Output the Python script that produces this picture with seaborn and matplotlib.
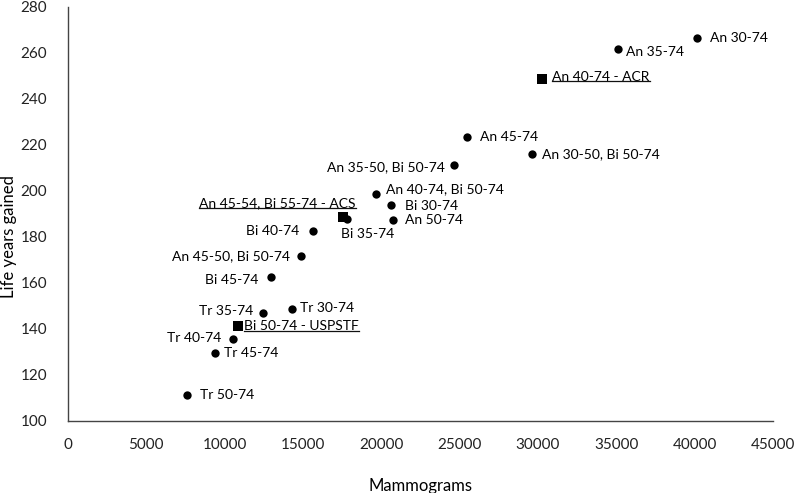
import matplotlib
matplotlib.use("Agg")
import matplotlib.pyplot as plt
import seaborn as sns
import pandas as pd

# screening strategies (An = annual, Bi = biennial, Tr = triennial)
strategies = [
    "An 30-74", "An 35-74", "An 40-74 - ACR", "An 45-74", "An 30-50, Bi 50-74",
    "An 35-50, Bi 50-74", "An 40-74, Bi 50-74", "Bi 30-74", "An 50-74",
    "An 45-54, Bi 55-74 - ACS", "Bi 35-74", "Bi 40-74", "An 45-50, Bi 50-74",
    "Bi 45-74", "Tr 35-74", "Tr 30-74", "Bi 50-74 - USPSTF", "Tr 40-74",
    "Tr 45-74", "Tr 50-74",
]
mammograms = [
    40130, 35130, 30280, 25450, 29600,
    24620, 19660, 20620, 20730,
    17530, 17830, 15660, 14870,
    12940, 12430, 14280, 10870, 10550,
    9380, 7580,
]
life_years = [
    266.4, 261.7, 248.7, 223.3, 216.1,
    211.4, 198.7, 193.9, 187.2,
    188.6, 188.0, 182.7, 171.7,
    162.7, 146.8, 148.7, 141.3, 135.8,
    129.4, 111.3,
]
guideline = [
    False, False, True, False, False,
    False, False, False, False,
    True, False, False, False,
    False, False, False, True, False,
    False, False,
]

df = pd.DataFrame({"strategy": strategies, "mammograms": mammograms,
                   "lyg": life_years, "guideline": guideline})

# label placement: (dx, dy) in pixels, horizontal alignment
label_pos = {
    "An 30-74": (13, 0, "left"),
    "An 35-74": (8, -3, "left"),
    "An 40-74 - ACR": (10, 2, "left"),
    "An 45-74": (13, 0, "left"),
    "An 30-50, Bi 50-74": (10, 0, "left"),
    "An 35-50, Bi 50-74": (-9, -2, "right"),
    "An 40-74, Bi 50-74": (10, 5, "left"),
    "Bi 30-74": (14, -1, "left"),
    "An 50-74": (12, 0, "left"),
    "An 45-54, Bi 55-74 - ACS": (13, 14, "right"),
    "Bi 35-74": (-6, -15, "left"),
    "Bi 40-74": (-14, 0, "right"),
    "An 45-50, Bi 50-74": (-11, 0, "right"),
    "Bi 45-74": (-12, -3, "right"),
    "Tr 35-74": (-9, 2, "right"),
    "Tr 30-74": (8, 1, "left"),
    "Bi 50-74 - USPSTF": (6, 0, "left"),
    "Tr 40-74": (-12, 1, "right"),
    "Tr 45-74": (9, 0, "left"),
    "Tr 50-74": (13, 0, "left"),
}

plt.rcParams["font.family"] = ["Lato", "DejaVu Sans"]
fig = plt.figure(figsize=(7.94, 4.93), dpi=100)
ax = fig.add_axes([68 / 794, 1 - 421 / 493, 705 / 794, 414 / 493])

sns.scatterplot(data=df[~df["guideline"]], x="mammograms", y="lyg", marker="o",
                s=36, color="black", linewidth=0, ax=ax)
sns.scatterplot(data=df[df["guideline"]], x="mammograms", y="lyg", marker="s",
                s=48, color="black", linewidth=0, ax=ax)

guide_texts = []
for name, xv, yv, g in zip(strategies, mammograms, life_years, guideline):
    dx, dy, ha = label_pos[name]
    t = ax.annotate(name, (xv, yv), xytext=(dx * 0.72, dy * 0.72),
                    textcoords="offset points", ha=ha, va="center",
                    fontsize=10, color="black")
    if g:
        guide_texts.append(t)

ax.set_xlim(0, 45000)
ax.set_ylim(100, 280)
ax.set_xticks(range(0, 45001, 5000))
ax.set_yticks(range(100, 281, 20))
ax.tick_params(length=0, labelsize=11, colors="#222222")
ax.tick_params(axis="x", pad=12)
ax.tick_params(axis="y", pad=15)
ax.set_xlabel("Mammograms", fontsize=12, labelpad=19)
ax.set_ylabel("Life years gained", fontsize=12)
ax.yaxis.set_label_coords(-0.072, 0.445)
for side in ["top", "right"]:
    ax.spines[side].set_visible(False)
for side in ["left", "bottom"]:
    ax.spines[side].set_color("#444444")
    ax.spines[side].set_linewidth(1.0)

# underline the guideline labels
fig.canvas.draw()
renderer = fig.canvas.get_renderer()
for t in guide_texts:
    bb = t.get_window_extent(renderer)
    y0 = bb.y0 + 1.5
    fig.add_artist(plt.Line2D([bb.x0, bb.x1], [y0, y0], transform=None,
                              color="#111111", linewidth=0.9))

fig.savefig("out.png", dpi=100)
